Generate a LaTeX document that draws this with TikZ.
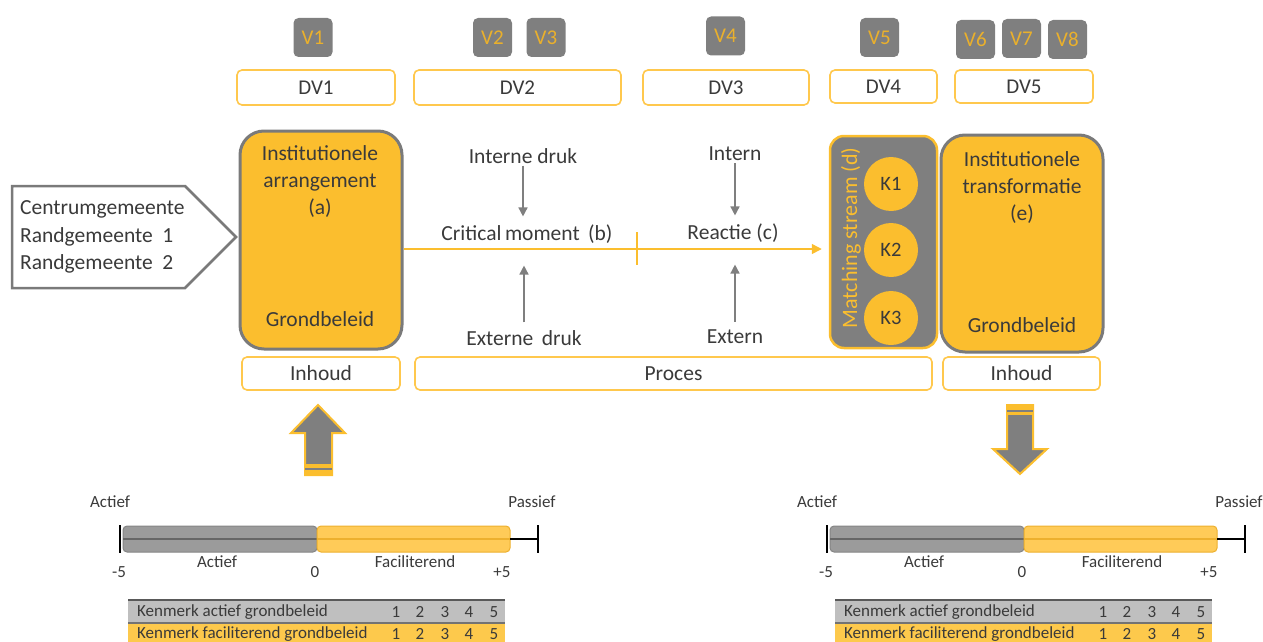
\documentclass[tikz,border=0pt]{standalone}
\usepackage{fontspec}
\setmainfont{Carlito}
\usetikzlibrary{arrows.meta,calc}
\definecolor{gold}{HTML}{FBBE2E}
\definecolor{dvor}{HTML}{FFC84D}
\definecolor{vgray}{HTML}{7F7F7F}
\definecolor{vtext}{HTML}{EAB02C}
\definecolor{bgray}{HTML}{7A7A7A}
\definecolor{txt}{HTML}{3A3A3A}
\definecolor{bargray}{HTML}{9B9B9B}
\definecolor{bargrayd}{HTML}{858585}
\definecolor{bargold}{HTML}{FFCB58}
\definecolor{bargoldd}{HTML}{EDB02E}
\definecolor{tabgray}{HTML}{BFBFBF}
\definecolor{tabgold}{HTML}{FDC94C}
\begin{document}
\begin{tikzpicture}[x=1pt,y=-1pt,
  vbox/.style={fill=vgray, rounded corners=5, minimum width=39, minimum height=39, inner sep=0, text=vtext, font=\fontsize{21}{25}\selectfont},
  dvbox/.style={draw=dvor, line width=1.6, rounded corners=5, fill=white, inner sep=0, text=txt, font=\fontsize{21}{25}\selectfont},
  bigbox/.style={fill=gold, draw=bgray, line width=3, rounded corners=24, inner sep=0},
  lbl/.style={text=txt, font=\fontsize{21.5}{27}\selectfont, align=center, inner sep=0},
  small/.style={text=txt, font=\fontsize{17}{20}\selectfont, inner sep=0},
  kcirc/.style={circle, fill=gold, minimum size=54, inner sep=0, text=txt, font=\fontsize{20.5}{24}\selectfont},
  garrow/.style={draw=vgray, line width=1.5, -{Triangle[length=9,width=9]}},
  bigarrow/.style={fill=vgray, draw=gold, line width=2}
]
\useasboundingbox (0,0) rectangle (1263,642);

% V boxes
\node[vbox] (v1) at (313,37.5) {V1};
\node[vbox] (v2) at (492.5,37.5) {V2};
\node[vbox] (v3) at (546,37.5) {V3};
\node[vbox] (v4) at (725.5,36) {V4};
\node[vbox] (v5) at (879.5,37.5) {V5};
\node[vbox] (v6) at (975.5,39.5) {V6};
\node[vbox] (v7) at (1021.5,38.5) {V7};
\node[vbox] (v8) at (1067.5,39.5) {V8};

% DV boxes
\node[dvbox, minimum width=158, minimum height=35] (dv1) at (316,87.5) {DV1};
\node[dvbox, minimum width=207, minimum height=35] (dv2) at (517.5,87.5) {DV2};
\node[dvbox, minimum width=166, minimum height=35] (dv3) at (726,87.5) {DV3};
\node[dvbox, minimum width=107, minimum height=33] (dv4) at (883.5,86.5) {DV4};
\node[dvbox, minimum width=138, minimum height=33] (dv5) at (1024,86.5) {DV5};

% pentagon
\draw[draw=bgray, line width=2.5, fill=white] (12,186) -- (185,186) -- (236,237) -- (185,288) -- (12,288) -- cycle;
\node[text=txt, font=\fontsize{21.5}{27.5}\selectfont, align=left, anchor=west, inner sep=0] (munis) at (20,237)
  {Centrumgemeente\\Randgemeente\ \ 1\\Randgemeente\ \ 2};

% box a
\node[bigbox, minimum width=162, minimum height=218] (a) at (321,240) {};
\node[lbl] (atitle) at (320,182) {Institutionele\\arrangement\\(a)};
\node[lbl] (agb) at (320,319) {Grondbeleid};

% process
\coordinate (linec) at (0,249);
\node[lbl] (intdruk) at (523,156) {Interne druk};
\node[lbl] (crit) at (527,234) {Critical\,moment\ \,(b)};
\node[lbl] (exdruk) at (524,338) {Externe\ \,druk};
\node[lbl] (intern) at (735,154) {Intern};
\node[lbl] (reactie) at (733,233) {Reactie (c)};
\node[lbl] (extern) at (735,337) {Extern};

\draw[garrow, shorten <=2, shorten >=8] (intdruk.south) -- (intdruk.south |- crit.north);
\draw[garrow, shorten <=8, shorten >=22] (exdruk.north) -- (exdruk.north |- crit.south);
\draw[garrow, shorten <=2, shorten >=8] (intern.south) -- (intern.south |- reactie.north);
\draw[garrow, shorten <=8, shorten >=22] (extern.north) -- (extern.north |- reactie.south);

% matching stream
\node[fill=vgray, draw=gold, line width=2.5, rounded corners=14, minimum width=107, minimum height=212, inner sep=0] (ms) at (883.5,242) {};
\node[rotate=90, text=gold, font=\fontsize{22}{25}\selectfont, inner sep=0] (mst) at (851,238) {Matching stream (d)};
\node[kcirc] (k1) at (891,184) {K1};
\node[kcirc] (k2) at (891,250) {K2};
\node[kcirc] (k3) at (891,318) {K3};

\draw[gold, line width=1.5, shorten >=7, -{Triangle[length=10,width=10]}] (a.east |- linec) -- (ms.west |- linec);
\coordinate (tick) at (637,249);
\draw[gold, line width=1.5] ($(tick)+(0,-17)$) -- ($(tick)+(0,16)$);

% box e
\node[bigbox, minimum width=162, minimum height=217] (e) at (1022,243.5) {};
\node[lbl] (etitle) at (1022,188) {Institutionele\\transformatie\\(e)};
\node[lbl] (egb) at (1022,325) {Grondbeleid};

% bottom labels
\node[dvbox, minimum width=158, minimum height=33, font=\fontsize{21.5}{25}\selectfont] (inh1) at (321,373.5) {Inhoud};
\node[dvbox, minimum width=517, minimum height=33, font=\fontsize{21.5}{25}\selectfont] (proc) at (673.5,373.5) {Proces};
\node[dvbox, minimum width=157, minimum height=33, font=\fontsize{21.5}{25}\selectfont] (inh2) at (1021.5,373.5) {Inhoud};

% big arrows
\draw[bigarrow] (318,405) -- (345,433) -- (332,433) -- (332,475) -- (305,475) -- (305,433) -- (291,433) -- cycle;
\fill[gold] (305,464) rectangle (332,475);
\draw[vgray, line width=1.2] (305,469) -- (332,469);
\draw[bigarrow] (1007,405) -- (1033,405) -- (1033,449) -- (1047,449) -- (1020,474) -- (993,449) -- (1007,449) -- cycle;
\fill[gold] (1007,404) rectangle (1033,415);
\draw[vgray, line width=1.2] (1007,411) -- (1033,411);

% scales
\foreach \dx/\n in {0/L,707/R}{
\begin{scope}[xshift=\dx]
  \draw[fill=bargray, draw=bargrayd, line width=1, rounded corners=4] (123,526) rectangle (317,552);
  \draw[draw=black!60, line width=1.2] (123,539) -- (317,539);
  \draw[fill=bargold, draw=bargoldd, line width=1, rounded corners=4] (317,526) rectangle (510,552);
  \draw[draw=bargoldd, line width=1.2] (317,539) -- (510,539);
  \draw[black, line width=1.5] (510,539) -- (538,539);
  \draw[black, line width=2.2] (120,525) -- (120,553);
  \draw[black, line width=2.2] (538,525) -- (538,553);
  \node[small] (act\n) at (110,502) {Actief};
  \node[small] (pas\n) at (532,502) {Passief};
  \node[small] (m5\n) at (119,572) {-5};
  \node[small] (actb\n) at (217,562) {Actief};
  \node[small] (zero\n) at (315,572) {0};
  \node[small] (fac\n) at (415,562) {Faciliterend};
  \node[small] (p5\n) at (502,572) {+5};
  \fill[tabgray] (128,600) rectangle (505,623);
  \fill[tabgold] (128,623) rectangle (505,645);
  \draw[black!65, line width=1.5] (128,600) -- (505,600);
  \draw[black!55, line width=1.2] (128,623) -- (505,623);
  \node[small, anchor=west] (ka\n) at (137,612) {Kenmerk actief grondbeleid};
  \node[small, anchor=west] (kf\n) at (137,634) {Kenmerk faciliterend grondbeleid};
  \foreach \k/\xx in {1/396,2/420,3/445,4/469,5/494}{
    \node[small] (na\n\k) at (\xx,612) {\k};
    \node[small] (nf\n\k) at (\xx,634) {\k};
  }
\end{scope}
}
\end{tikzpicture}
\end{document}
